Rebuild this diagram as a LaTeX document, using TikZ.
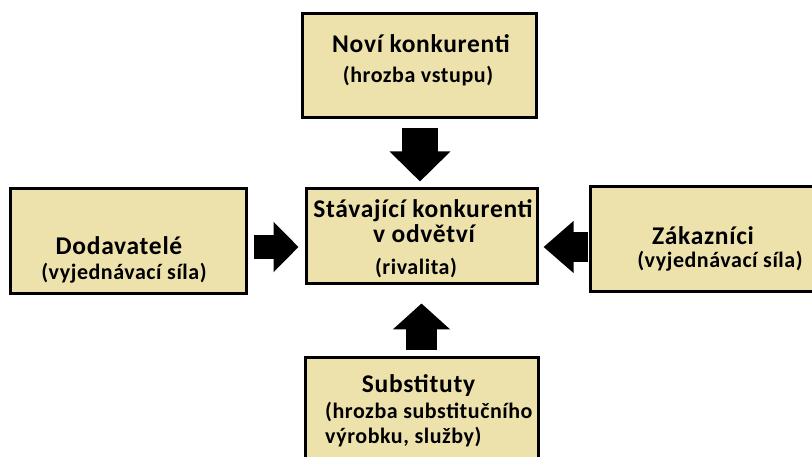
\documentclass[tikz,border=0pt]{standalone}
\usepackage{fontspec}
\setmainfont{Carlito}
\usetikzlibrary{arrows.meta,calc}
\definecolor{boxfill}{RGB}{238,226,172}
\tikzset{
  forcebox/.style={draw=black, line width=3pt, fill=boxfill, rectangle, inner sep=0pt},
  titletext/.style={anchor=base, font=\fontsize{25.5}{28}\selectfont\bfseries\addfontfeatures{LetterSpace=2.8}, inner sep=0pt},
  subtext/.style={anchor=base, font=\fontsize{22}{24}\selectfont\bfseries\addfontfeatures{LetterSpace=2.5}, inner sep=0pt},
}
\begin{document}
\begin{tikzpicture}[x=1pt,y=-1pt]
\useasboundingbox (0,0) rectangle (812,457);
\begin{scope}
\clip (0,0) rectangle (812,457);
% boxes
\node[forcebox, minimum width=234pt, minimum height=104pt] (new) at (419.5,65.5) {};
\node[forcebox, minimum width=236pt, minimum height=105pt] (sup) at (128.5,241) {};
\node[forcebox, minimum width=231pt, minimum height=95pt] (rival) at (422,236) {};
\node[forcebox, minimum width=238pt, minimum height=105pt] (cust) at (709.5,239) {};
\node[forcebox, minimum width=233pt, minimum height=105pt] (subs) at (422,410) {};
% texts
\node[titletext] (newt) at (421,53) {Noví konkurenti};
\node[subtext] (news) at (418,83) {(hrozba vstupu)};
\node[titletext] (supt) at (119,255) {Dodavatelé};
\node[subtext] (sups) at (124,280) {(vyjednávací síla)};
\node[titletext] (rivt) at (423,218) {Stávající konkurenti};
\node[titletext] (rivv) at (424,243) {v odvětví};
\node[subtext] (rivs) at (416,275) {(rivalita)};
\node[titletext] (custt) at (703,245) {Zákazníci};
\node[subtext] (custs) at (720,268) {(vyjednávací síla)};
\node[titletext] (subst) at (418.5,392) {Substituty};
\node[subtext, anchor=base west] (subss) at (325,418) {(hrozba substitučního};
\node[subtext, anchor=base west] (subsr) at (325,443) {výrobku, služby)};
\end{scope}
% arrows
\coordinate (hy) at (0,247);
\draw[line width=24pt, -{Triangle[length=25pt,width=49pt]}]
  ($(sup.east |- hy)+(5.5,0)$) -- ($(rival.west |- hy)+(-6.5,0)$);
\draw[line width=30pt, -{Triangle[length=30pt,width=50pt]}]
  ($(cust.west |- hy)+(-1.5,0)$) -- ($(rival.east |- hy)+(4.5,0)$);
\coordinate (vx1) at (420,0);
\draw[line width=36pt, -{Triangle[length=30pt,width=59pt]}]
  ($(new.south -| vx1)+(0,9.5)$) -- ($(rival.north -| vx1)+(0,-5.5)$);
\coordinate (vx2) at (421.5,0);
\draw[line width=31pt, -{Triangle[length=26pt,width=56pt]}]
  ($(subs.north -| vx2)+(0,-5.5)$) -- ($(rival.south -| vx2)+(0,18.5)$);
\end{tikzpicture}
\end{document}
